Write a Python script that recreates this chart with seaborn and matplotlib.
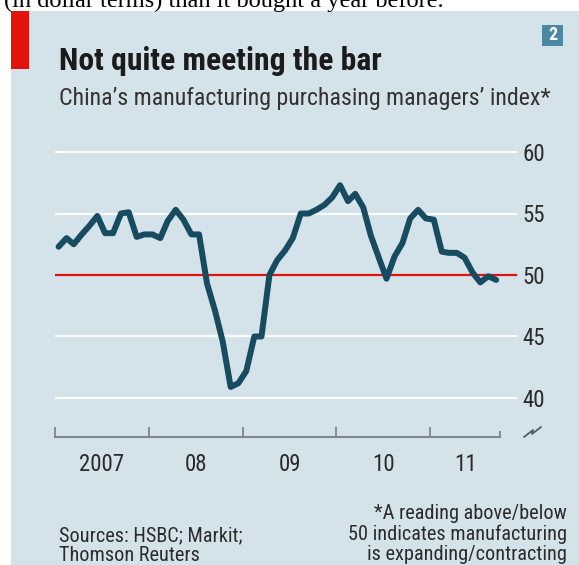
import numpy as np
import pandas as pd
import matplotlib
matplotlib.use("Agg")
import matplotlib.pyplot as plt
import matplotlib.dates as mdates
import seaborn as sns
from matplotlib import font_manager as fm
from matplotlib.patches import Rectangle
from matplotlib.lines import Line2D

# ---------------- data ----------------
first_month = "2007-01"
last_month = "2011-09"
pmi = [52.3, 53.0, 52.5, 53.3, 54.0, 54.8, 53.4, 53.4, 55.0, 55.1, 53.1, 53.3,
       53.3, 53.0, 54.4, 55.3, 54.5, 53.3, 53.3, 49.3, 47.1, 44.6, 40.9, 41.2,
       42.2, 45.0, 45.0, 50.0, 51.2, 52.0, 53.0, 55.0, 55.0, 55.3, 55.7, 56.3,
       57.3, 56.0, 56.6, 55.5, 53.2, 51.4, 49.7, 51.5, 52.6, 54.6, 55.3, 54.6,
       54.5, 51.9, 51.8, 51.8, 51.4, 50.2, 49.4, 49.9, 49.6]
year_labels = ["2007", "08", "09", "10", "11"]
y_ticks = [40, 45, 50, 55, 60]
threshold = 50

title = "Not quite meeting the bar"
subtitle = "China\u2019s manufacturing purchasing managers\u2019 index*"
source_lines = ["Sources: HSBC; Markit;", "Thomson Reuters"]
note_lines = ["*A reading above/below", "50 indicates manufacturing",
              "is expanding/contracting"]
above_text = "(in dollar terms) than it bought a year before."
chart_no = "2"

months = pd.date_range(first_month, last_month, freq="MS") + pd.Timedelta(days=14)
df = pd.DataFrame({"date": months, "pmi": pmi})

# ---------------- style ----------------
sns.set_theme(style="white")
names = {f.name for f in fm.fontManager.ttflist}
def pick(cands):
    for c in cands:
        if c in names:
            return c
    return "DejaVu Sans"
body_font = pick(["Roboto Condensed", "Liberation Sans Narrow", "Noto Sans Condensed",
                  "Lato", "DejaVu Sans"])
serif_font = pick(["Liberation Serif", "DejaVu Serif"])
plt.rcParams["font.family"] = [body_font, "DejaVu Sans"]

W, H = 579, 565
fig = plt.figure(figsize=(W / 100, H / 100), dpi=100, facecolor="white")
def fx(px): return px / W
def fy(py): return 1 - py / H

BG = "#d4e2ea"
TEAL = "#174b5f"
RED = "#e3120b"
AX_GREY = "#7d878d"
TXT = "#2b2b2b"

# panel background
fig.patches.append(Rectangle((fx(11), 0), 1 - fx(11), fy(11), transform=fig.transFigure,
                             facecolor=BG, edgecolor="none", zorder=-5))
# red tag
fig.patches.append(Rectangle((fx(11), fy(69)), fx(29) - fx(11), fy(11) - fy(69),
                             transform=fig.transFigure, facecolor=RED,
                             edgecolor="none", zorder=-4))
# chart number box
fig.patches.append(Rectangle((fx(542), fy(46)), fx(563) - fx(542), fy(25) - fy(46),
                             transform=fig.transFigure, facecolor="#4b88a3",
                             edgecolor="none", zorder=-4))

# ---------------- axes ----------------
ylo, yhi = 36.8, 60.2
px_per_unit = (398 - 152) / 20
ax_top = 152 - (yhi - 60) * px_per_unit
ax_bot = 398 + (40 - ylo) * px_per_unit
ax = fig.add_axes([fx(55), fy(ax_bot), fx(517) - fx(55), fy(ax_top) - fy(ax_bot)])
ax.set_facecolor("none")
ax.set_zorder(2)

x0 = pd.Timestamp("2007-01-01")
x_end_axis = pd.Timestamp("2011-10-01")
x1 = pd.Timestamp("2011-12-05")

for v in y_ticks:
    if v == threshold:
        continue
    ax.axhline(v, color="white", lw=1.5, zorder=1)
ax.axhline(threshold, color=RED, lw=1.6, zorder=2)

sns.lineplot(data=df, x="date", y="pmi", ax=ax, color=TEAL, lw=4.3,
             solid_capstyle="round", solid_joinstyle="round", zorder=3)
ax.set_xlabel("")
ax.set_ylabel("")
ax.set_xlim(x0, x1)
ax.set_ylim(ylo, yhi)

for s in ["top", "left", "right"]:
    ax.spines[s].set_visible(False)
ax.spines["bottom"].set_color(AX_GREY)
ax.spines["bottom"].set_linewidth(1.5)
ax.spines["bottom"].set_bounds(mdates.date2num(x0), mdates.date2num(x_end_axis))

year_starts = [pd.Timestamp(f"{2007 + i}-01-01") for i in range(len(year_labels))]
major = year_starts + [x_end_axis]
ax.set_xticks(major)
ax.set_xticklabels([""] * len(major))
ax.tick_params(axis="x", which="major", bottom=True, direction="in", length=7,
               width=1.3, color=AX_GREY)
ax.xaxis.get_major_ticks()[-1].tick1line.set_markersize(4.5)
mids = []
for i, ys in enumerate(year_starts):
    end = year_starts[i + 1] if i + 1 < len(year_starts) else x_end_axis
    mids.append(ys + (end - ys) / 2)
ax.set_xticks(mids, minor=True)
ax.set_xticklabels(year_labels, minor=True)
ax.tick_params(axis="x", which="minor", bottom=True, length=0, pad=11,
               labelsize=16.5, labelcolor=TXT)

ax.yaxis.tick_right()
ax.set_yticks(y_ticks)
ax.set_yticklabels([str(v) for v in y_ticks])
ax.tick_params(axis="y", length=0, pad=4, labelsize=16.5, labelcolor=TXT)
ax.grid(False)

# axis break symbol
brk_x = [524, 533, 532, 541]
brk_y = [437, 430, 434, 427]
fig.lines.append(Line2D([fx(v) for v in brk_x], [fy(v) for v in brk_y],
                        transform=fig.transFigure, color="#555c60", lw=1.3))

# ---------------- text ----------------
renderer = fig.canvas.get_renderer()
def fit(t, target_w):
    w = t.get_window_extent(renderer).width
    t.set_fontsize(t.get_fontsize() * target_w / w)

t = fig.text(fx(4), fy(7), above_text, family=serif_font, fontsize=16,
             color="black", va="baseline", ha="left")
fit(t, 441)

t = fig.text(fx(59), fy(70), title, fontsize=24, weight="bold", color="#1b1b1b",
             va="baseline", ha="left")
fit(t, 323)
t = fig.text(fx(59), fy(105), subtitle, fontsize=15, color="#333333",
             va="baseline", ha="left")
fit(t, 493)

fig.text(fx(552.5), fy(35.5), chart_no, fontsize=13, weight="bold", color="white",
         va="center", ha="center")

for i, line in enumerate(source_lines):
    t = fig.text(fx(59), fy(541 + 20 * i), line, fontsize=12, color=TXT,
                 va="baseline", ha="left")
    if i == 0:
        fit(t, 183)
        src_size = t.get_fontsize()
    else:
        t.set_fontsize(src_size)

for i, line in enumerate(note_lines):
    t = fig.text(fx(567), fy(519 + 20.5 * i), line, fontsize=src_size, color=TXT,
                 va="baseline", ha="right")

fig.savefig("out.png", dpi=100, facecolor="white")
